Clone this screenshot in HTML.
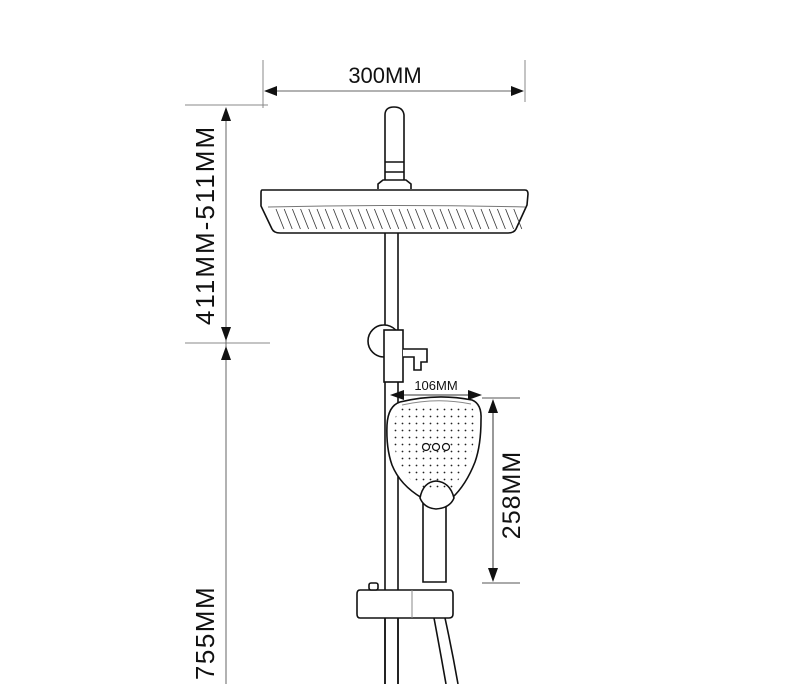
<!DOCTYPE html>
<html><head><meta charset="utf-8"><style>
html,body{margin:0;padding:0;background:#fff;}
svg{display:block;}
text{font-family:"Liberation Sans",Arial,sans-serif;fill:#111;}
</style></head><body>
<svg width="790" height="684" viewBox="0 0 790 684" xmlns="http://www.w3.org/2000/svg">
<defs>
<pattern id="dots" width="7" height="7" patternUnits="userSpaceOnUse"><circle cx="3.5" cy="3.5" r="0.9" fill="#222"/></pattern>
<clipPath id="hc"><path d="M402,408 Q437,400 470,406 Q476,410 475,422 Q475,445 469,460 Q462,478 450,490 L424,490 Q405,478 398,462 Q393,447 394,427 Q395,411 402,408 Z"/></clipPath>
</defs>
<g stroke="#111" fill="none" stroke-width="1">
<line x1="263" y1="60" x2="263" y2="108" stroke="#888"/>
<line x1="525" y1="60" x2="525" y2="102" stroke="#888"/>
<line x1="266" y1="91" x2="522" y2="91" stroke="#666"/>
<line x1="185" y1="105" x2="268" y2="105" stroke="#888"/>
<line x1="185" y1="343" x2="270" y2="343" stroke="#888"/>
<line x1="226" y1="110" x2="226" y2="684" stroke="#666"/>
<line x1="482" y1="398" x2="520" y2="398" stroke="#555"/>
<line x1="482" y1="583" x2="520" y2="583" stroke="#555"/>
<line x1="493" y1="400" x2="493" y2="581" stroke="#333"/>
<line x1="392" y1="395" x2="480" y2="395" stroke="#333"/>
</g>
<g fill="#111">
<polygon points="264,91 277,86 277,96"/>
<polygon points="524,91 511,86 511,96"/>
<polygon points="226,107 221,121 231,121"/>
<polygon points="226,341 221,327 231,327"/>
<polygon points="226,346 221,360 231,360"/>
<polygon points="493,399 488,413 498,413"/>
<polygon points="493,582 488,568 498,568"/>
<polygon points="390,395 404,390 404,400"/>
<polygon points="482,395 468,390 468,400"/>
</g>
<text x="385" y="83" font-size="22" text-anchor="middle">300MM</text>
<text transform="translate(214,225) rotate(-90)" font-size="26" text-anchor="middle" letter-spacing="2">411MM-511MM</text>
<text transform="translate(214,633) rotate(-90)" font-size="26" text-anchor="middle" letter-spacing="1.5">755MM</text>
<text transform="translate(520,495) rotate(-90)" font-size="25" text-anchor="middle" letter-spacing="1">258MM</text>
<text x="436" y="390" font-size="13" text-anchor="middle">106MM</text>

<g stroke="#111" stroke-width="1.6" fill="#fff">
<path d="M385,185 L385,115 Q385,107 394,107 Q403,107 404,115 L404,185"/>
<line x1="385" y1="162" x2="404" y2="162"/>
<line x1="385" y1="172" x2="404" y2="172"/>
<path d="M378,189 L378,184 L383,180 L406,180 L411,184 L411,189"/>
<line x1="385" y1="232" x2="385" y2="684"/>
<line x1="398" y1="232" x2="398" y2="684"/>
<path d="M262,190 L525,190 Q528,190 528,194 L527,205 L516,229 Q514,233 508,233 L280,233 Q274,233 272,229 L261,206 L261,193 Q261,190 262,190 Z"/>
<circle cx="384" cy="341" r="16"/>
<rect x="384" y="330" width="19" height="52"/>
<path d="M403,349 L427,349 L427,362 L421,362 L421,370 L414,370 L414,357 L403,357"/>
<path d="M423,500 L423,582 L446,582 L446,500"/>
<path d="M400,402 Q437,393 472,400 Q482,404 481,420 Q481,445 475,462 Q466,485 452,498 L422,498 Q400,485 392,465 Q386,448 387,425 Q388,406 400,402 Z"/>
<path d="M420,498 Q423,482 436,481 Q450,482 454,498 Q450,508 436,509 Q424,508 420,498 Z"/>
<path d="M360,590 L450,590 Q453,590 453,594 L453,614 Q453,618 449,618 L360,618 Q357,618 357,614 L357,594 Q357,590 360,590 Z"/>
<rect x="369" y="583" width="9" height="7" rx="2"/>
</g>
<path d="M402,405 Q437,397 471,404" stroke="#888" fill="none"/>
<rect x="390" y="400" width="92" height="100" fill="url(#dots)" clip-path="url(#hc)"/>
<g stroke="#111" stroke-width="1.2" fill="#fff">
<circle cx="426" cy="447" r="3.5"/><circle cx="436" cy="447" r="3.5"/><circle cx="446" cy="447" r="3.5"/>
</g>
<g stroke="#111" stroke-width="1.6" fill="none">
<line x1="385" y1="618" x2="385" y2="684"/>
<line x1="398" y1="618" x2="398" y2="684"/>
<path d="M434,618 Q440,650 446,684"/>
<path d="M445,618 Q452,650 458,684"/>
</g>
<line x1="412" y1="590" x2="412" y2="618" stroke="#888"/>
<path d="M268,207 Q395,204 525,207" stroke="#777" fill="none"/>
<g stroke="#333" stroke-width="0.8" id="hatch"></g>
<script>
var g=document.getElementById('hatch');
for(var x=276;x<515;x+=8.2){var l=document.createElementNS('http://www.w3.org/2000/svg','line');l.setAttribute('x1',x);l.setAttribute('y1',209);l.setAttribute('x2',x+8);l.setAttribute('y2',229);g.appendChild(l);}
</script>
</svg>
</body></html>
